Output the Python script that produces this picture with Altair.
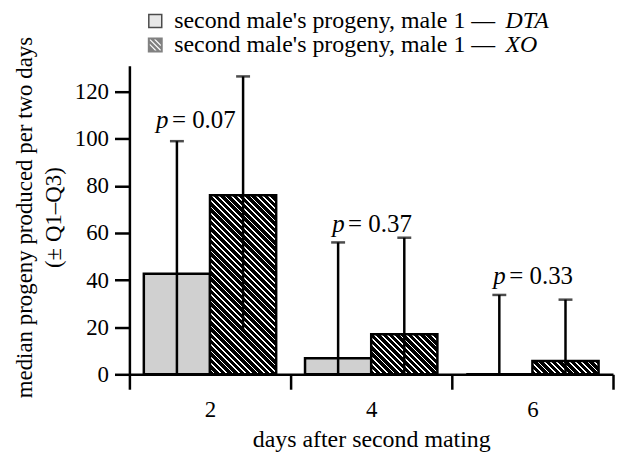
import math
import json
import altair as alt
import pandas as pd

# ---------------- data ----------------
days = ["2", "4", "6"]
series = ["DTA", "XO"]
median_dta = [42.7, 6.8, 0.0]
median_xo = [76.0, 17.0, 5.6]
q1_dta = [0.0, 0.0, 0.0]
q3_dta = [99.0, 56.0, 33.7]
q1_xo = [18.0, 0.0, 0.0]
q3_xo = [126.5, 58.0, 31.7]
p_values = ["0.07", "0.37", "0.33"]
legend_text = "second male's progeny, male 1 \u2014"
y_ticks = [0, 20, 40, 60, 80, 100, 120]

# ---------------- layout constants ----------------
W, H = 486, 310
YMAX = 131
FONT = "Liberation Serif, Times New Roman, serif"
PAD_OUT = 0.218  # outer padding of the two bars inside each day band

rows = []
for i, d in enumerate(days):
    rows.append({"day": d, "series": "DTA", "median": median_dta[i], "q1": q1_dta[i], "q3": q3_dta[i]})
    rows.append({"day": d, "series": "XO", "median": median_xo[i], "q1": q1_xo[i], "q3": q3_xo[i]})
df = pd.DataFrame(rows)

lab = pd.DataFrame({"day": days, "series": "DTA", "ptxt": ["= " + p for p in p_values], "y": q3_dta})

# ---------------- hatch helpers ----------------
band_px = W / len(days)
bar_px = band_px / (len(series) + 2 * PAD_OUT)


def hatch(w, h, period=4.45, white=0.28):
    L = (w + h) / math.sqrt(2)
    dt = period / L
    stops = []
    t = 0.0
    while t < 1 - 1e-9:
        b = min(t + dt * (1 - white), 1.0)
        e = min(t + dt, 1.0)
        for off, col in ((t, "black"), (b, "black"), (b, "white"), (e, "white")):
            stops.append({"offset": round(off, 5), "color": col})
        t += dt
    k = (w + h) / (w * w + h * h)
    return {"gradient": "linear", "x1": 0, "y1": 1, "x2": round(k * w, 5),
            "y2": round(1 - k * h, 5), "stops": stops}


def clip(poly, f):
    out = []
    n = len(poly)
    for i in range(n):
        p, q = poly[i], poly[(i + 1) % n]
        fp, fq = f(p), f(q)
        if fp >= 0:
            out.append(p)
        if (fp >= 0) != (fq >= 0):
            s = fp / (fp - fq)
            out.append((p[0] + s * (q[0] - p[0]), p[1] + s * (q[1] - p[1])))
    return out


def hatched_square_path(R=1.154, border=0.308, centers=(-0.78, 0.0, 0.78), half=0.13):
    parts = [f"M{-R},{-R}L{R},{-R}L{R},{R}L{-R},{R}Z"]
    r = R - border
    inner = [(-r, -r), (r, -r), (r, r), (-r, r)]
    for c in centers:
        poly = clip(inner, lambda p, c=c: (p[0] - p[1]) - (c - half))
        poly = clip(poly, lambda p, c=c: (c + half) - (p[0] - p[1]))
        if len(poly) < 3:
            continue
        area = sum(poly[i][0] * poly[(i + 1) % len(poly)][1] - poly[(i + 1) % len(poly)][0] * poly[i][1]
                   for i in range(len(poly)))
        if area > 0:
            poly = poly[::-1]
        parts.append("M" + "L".join(f"{x:.3f},{y:.3f}" for x, y in poly) + "Z")
    return "".join(parts)


# ---------------- encodings ----------------
xaxis = alt.Axis(title="days after second mating", labelAngle=0, tickBand="extent",
                 tickSize=15, tickWidth=2.5, tickColor="black", domainColor="black",
                 domainWidth=2.5, labelFont=FONT, labelFontSize=23, labelPadding=9,
                 labelColor="black", titleFont=FONT, titleFontSize=24,
                 titleFontWeight="normal", titleColor="black", titleX=W / 2, titleY=73,
                 titleAlign="center", titleBaseline="alphabetic", grid=False)
yaxis = alt.Axis(values=y_ticks, tickSize=15, tickWidth=2.5, tickColor="black",
                 domainColor="black", domainWidth=2.5, labelFont=FONT, labelFontSize=23,
                 labelPadding=6, labelColor="black", grid=False,
                 title=["median progeny produced per two days", "(\u00b1 Q1\u2013Q3)"],
                 titleFont=FONT, titleFontSize=23, titleFontWeight="normal",
                 titleColor="black", titleX=-98, titleY=152, titleAlign="center",
                 titleBaseline="alphabetic", titleLineHeight=29, titleAngle=270)

X = alt.X("day:N", sort=days, scale=alt.Scale(paddingInner=0, paddingOuter=0), axis=xaxis)
XO_ = alt.XOffset("series:N", scale=alt.Scale(domain=series, paddingInner=0, paddingOuter=PAD_OUT))
yscale = alt.Scale(domain=[0, YMAX], nice=False)


def Y(field):
    return alt.Y(field, scale=yscale, axis=yaxis)


base = alt.Chart(df)

# legends (dummy, invisible points)
leg1 = alt.Legend(title=None, orient="none", legendX=14, legendY=-57, symbolSize=169,
                  labelFont=FONT, labelFontSize=24, labelColor="black", labelOffset=7,
                  labelLimit=600, rowPadding=0,
                  labelExpr=json.dumps(legend_text, ensure_ascii=False))
leg2 = alt.Legend(title=None, orient="none", legendX=354, legendY=-57, symbolSize=0,
                  symbolOpacity=0, symbolStrokeWidth=0, labelOffset=0, labelLimit=600,
                  labelFont=FONT, labelFontSize=24, labelFontStyle="italic",
                  labelColor="black", rowPadding=0)

dummy = base.transform_filter("datum.day == '2'")
legend_layer1 = dummy.mark_point(filled=True, size=0, strokeWidth=2).encode(
    x=X, xOffset=XO_, y=Y("median:Q"),
    fill=alt.Fill("series:N", scale=alt.Scale(domain=series, range=["#d0d0d0", "black"]), legend=leg1),
    shape=alt.Shape("series:N", scale=alt.Scale(domain=series, range=["square", hatched_square_path()]), legend=leg1),
    stroke=alt.Stroke("series:N", scale=alt.Scale(domain=series, range=["black", "transparent"]), legend=leg1),
)
legend_layer2 = dummy.mark_point(size=0).encode(
    x=X, xOffset=XO_, y=Y("median:Q"),
    strokeDash=alt.StrokeDash("series:N", legend=leg2),
)

# bars
dta_bars = base.transform_filter("datum.series == 'DTA'").mark_bar(
    fill="#d0d0d0", stroke="black", strokeWidth=2.5
).encode(x=X, xOffset=XO_, y=Y("median:Q"))

xo_layers = []
for i, d in enumerate(days):
    hpx = median_xo[i] * H / YMAX
    xo_layers.append(
        base.transform_filter(f"datum.series == 'XO' && datum.day == '{d}'").mark_bar(
            fill=hatch(bar_px, max(hpx, 1.0)), stroke="black", strokeWidth=2.5
        ).encode(x=X, xOffset=XO_, y=Y("median:Q"))
    )

rules = base.mark_rule(color="black", strokeWidth=2.5).encode(
    x=X, xOffset=XO_, y=Y("q1:Q"), y2="q3:Q")
caps = base.mark_tick(color="black", thickness=2.5, size=14, orient="horizontal").encode(
    x=X, xOffset=XO_, y=Y("q3:Q"))

# p-value labels
lab_c = alt.Chart(lab)
txt_kw = dict(font=FONT, fontSize=25, color="black", align="left", baseline="alphabetic")
p2 = lab_c.transform_filter("datum.day == '2'").mark_text(text="p", fontStyle="italic", dx=-21, dy=-13, **txt_kw).encode(
    x=X, xOffset=XO_, y=Y("y:Q"))
e2 = lab_c.transform_filter("datum.day == '2'").mark_text(dx=-21 + 16, dy=-13, **txt_kw).encode(
    x=X, xOffset=XO_, y=Y("y:Q"), text="ptxt:N")
p46 = lab_c.transform_filter("datum.day != '2'").mark_text(text="p", fontStyle="italic", dx=-6, dy=-10.5, **txt_kw).encode(
    x=X, xOffset=XO_, y=Y("y:Q"))
e46 = lab_c.transform_filter("datum.day != '2'").mark_text(dx=-6 + 16, dy=-10.5, **txt_kw).encode(
    x=X, xOffset=XO_, y=Y("y:Q"), text="ptxt:N")

chart = alt.layer(
    legend_layer1, legend_layer2, dta_bars, *xo_layers, rules, caps, p2, e2, p46, e46
).resolve_legend(
    fill="shared", shape="shared", stroke="shared"
).properties(
    width=W, height=H,
    padding={"left": 122, "top": 57, "right": 2, "bottom": 80},
    autosize=alt.AutoSizeParams(type="none"),
).configure(font=FONT).configure_view(stroke=None).configure_axis(
    labelFont=FONT, titleFont=FONT
).configure_legend(labelFont=FONT, titleFont=FONT).configure_text(font=FONT)

chart.save("out.html", embed_options={"renderer": "svg", "actions": False})
